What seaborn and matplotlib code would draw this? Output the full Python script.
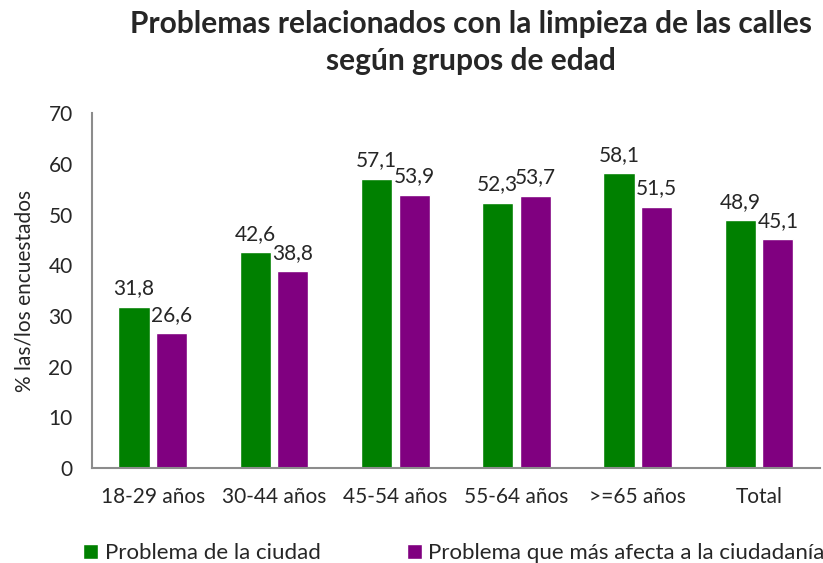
import pandas as pd
import seaborn as sns
import matplotlib.pyplot as plt

# data
grupos = ['18-29 años', '30-44 años', '45-54 años', '55-64 años', '>=65 años', 'Total']
ciudad = [31.8, 42.6, 57.1, 52.3, 58.1, 48.9]
ciudadania = [26.6, 38.8, 53.9, 53.7, 51.5, 45.1]
series = ['Problema de la ciudad', 'Problema que más afecta a la ciudadanía']
colores = ['#008000', '#800080']

df = pd.DataFrame({
    'grupo': grupos * 2,
    'valor': ciudad + ciudadania,
    'serie': [series[0]] * len(grupos) + [series[1]] * len(grupos),
})

sns.set_style('white')
plt.rcParams['font.family'] = ['Lato', 'DejaVu Sans']

fig = plt.figure(figsize=(8.23, 5.63), dpi=100)
ax = fig.add_axes([0.112, 0.169, 0.884, 0.630])

sns.barplot(data=df, x='grupo', y='valor', hue='serie', hue_order=series,
            palette=colores, width=0.62, gap=0.17, saturation=1, ax=ax)

for cont in ax.containers:
    ax.bar_label(cont, labels=[f'{v:.1f}'.replace('.', ',') for v in cont.datavalues],
                 padding=6, fontsize=15)

ax.set_ylim(0, 70)
ax.set_xlim(-0.5, 5.5)
ax.set_yticks(range(0, 71, 10))
ax.set_xlabel('')
ax.set_ylabel('% las/los encuestados', fontsize=15, labelpad=10)
ax.tick_params(axis='both', length=0, labelsize=15)
ax.tick_params(axis='x', pad=14)
ax.tick_params(axis='y', pad=14)
sns.despine(ax=ax)
for s in ['left', 'bottom']:
    ax.spines[s].set_color('#8c8c8c')
    ax.spines[s].set_linewidth(1.5)

fig.text(0.572, 0.983, 'Problemas relacionados con la limpieza de las calles\nsegún grupos de edad',
         ha='center', va='top', fontsize=21.5, fontweight='bold', linespacing=1.4)

ax.legend(ncol=2, loc='center left', bbox_to_anchor=(-0.012, -0.24), frameon=False,
          fontsize=16, handlelength=0.65, handleheight=0.65, handletextpad=0.3,
          columnspacing=3.9, borderaxespad=0, borderpad=0)

fig.savefig('out.png', dpi=100)
